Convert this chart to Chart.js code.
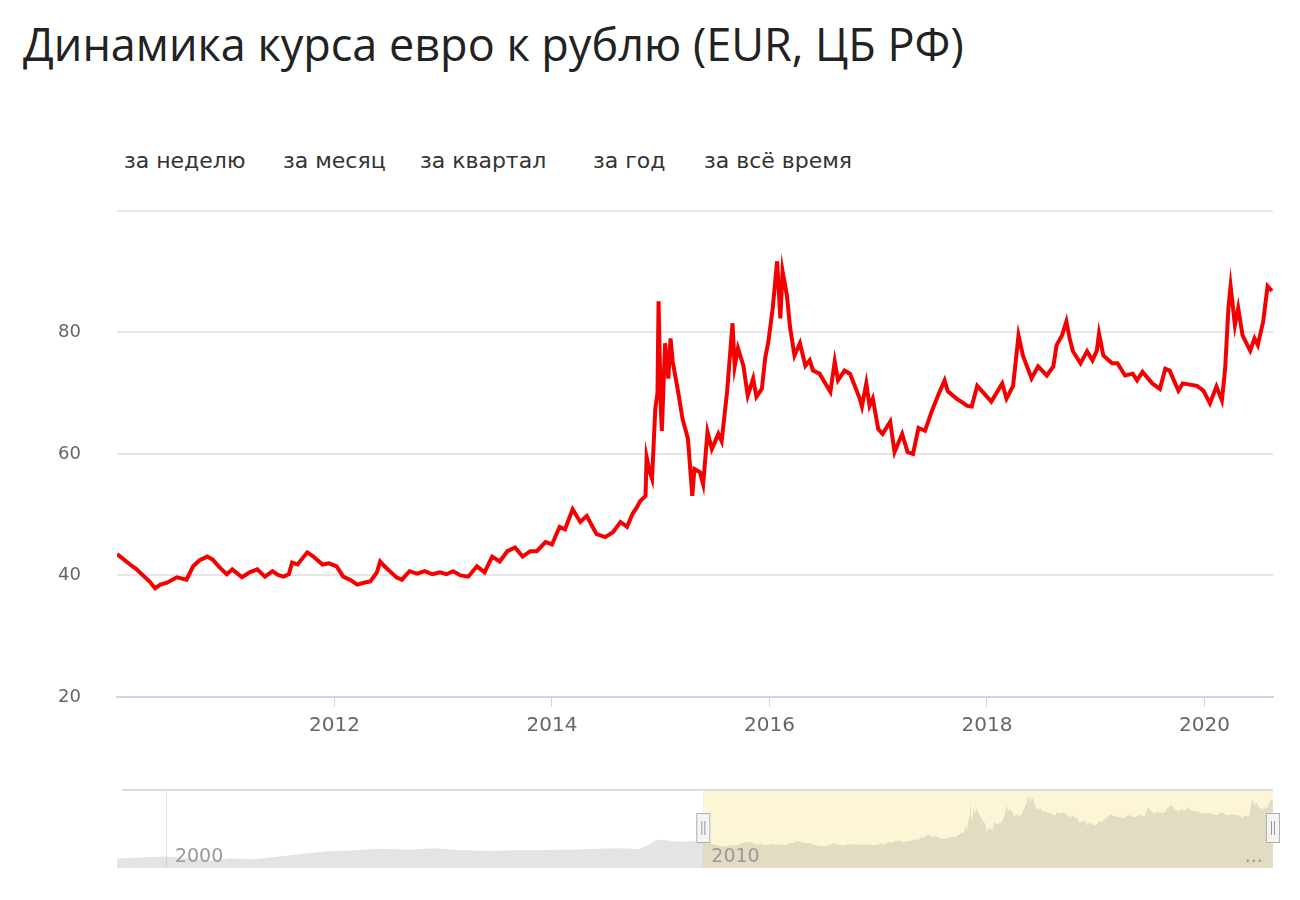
<!DOCTYPE html>
<html lang="ru">
<head>
<meta charset="utf-8">
<title>Динамика курса евро к рублю</title>
<script src="https://cdn.jsdelivr.net/npm/chart.js@4.4.1/dist/chart.umd.min.js"></script>
<style>
  html, body { margin: 0; padding: 0; background: #fff; }
  body { width: 1300px; height: 900px; position: relative; overflow: hidden; font-family: "DejaVu Sans", sans-serif; }
  #title { position: absolute; left: 23px; top: 15px; font-family: "Open Sans", sans-serif; font-size: 45px; color: #222; white-space: nowrap; line-height: 58px; }
  .range { position: absolute; top: 147px; font-size: 22px; color: #333; line-height: 28px; white-space: nowrap; }
  #main-wrap { position: absolute; left: 0; top: 164px; width: 1300px; height: 586px; }
  #nav-wrap { position: absolute; left: 0; top: 780px; width: 1300px; height: 90px; }
</style>
</head>
<body>
<div id="title">Динамика курса евро к рублю (EUR, ЦБ РФ)</div>
<div class="range" style="left:124px">за неделю</div>
<div class="range" style="left:283px">за месяц</div>
<div class="range" style="left:420px">за квартал</div>
<div class="range" style="left:593px">за год</div>
<div class="range" style="left:704px">за всё время</div>
<div id="main-wrap"><canvas id="mainChart" width="1300" height="586"></canvas></div>
<div id="nav-wrap"><canvas id="navChart" width="1300" height="90"></canvas></div>
<script>
// EUR/RUB (CBR), time as decimal years
const years = [
  2010.00, 2010.05, 2010.12, 2010.18, 2010.24, 2010.30, 2010.35, 2010.40, 2010.46, 2010.55,
  2010.64, 2010.70, 2010.76, 2010.83, 2010.88, 2010.95, 2011.01, 2011.06, 2011.15, 2011.22,
  2011.29, 2011.36, 2011.43, 2011.48, 2011.53, 2011.58, 2011.61, 2011.66, 2011.75, 2011.80,
  2011.89, 2011.95, 2012.02, 2012.08, 2012.15, 2012.21, 2012.27, 2012.33, 2012.39, 2012.42,
  2012.46, 2012.52, 2012.57, 2012.62, 2012.69, 2012.76, 2012.83, 2012.90, 2012.97, 2013.03,
  2013.09, 2013.16, 2013.23, 2013.31, 2013.38, 2013.45, 2013.52, 2013.59, 2013.66, 2013.73,
  2013.80, 2013.86, 2013.94, 2014.00, 2014.07, 2014.12, 2014.19, 2014.26, 2014.32, 2014.37,
  2014.41, 2014.49, 2014.56, 2014.63, 2014.69, 2014.74, 2014.78, 2014.81, 2014.86, 2014.87,
  2014.90, 2014.92, 2014.95, 2014.97, 2014.98, 2015.00, 2015.01, 2015.04, 2015.07, 2015.09,
  2015.11, 2015.16, 2015.20, 2015.25, 2015.29, 2015.31, 2015.36, 2015.39, 2015.43, 2015.47,
  2015.53, 2015.56, 2015.61, 2015.66, 2015.68, 2015.71, 2015.76, 2015.80, 2015.85, 2015.88,
  2015.93, 2015.96, 2015.99, 2016.03, 2016.07, 2016.10, 2016.12, 2016.16, 2016.19, 2016.23,
  2016.28, 2016.33, 2016.37, 2016.40, 2016.46, 2016.56, 2016.60, 2016.63, 2016.69, 2016.74,
  2016.83, 2016.85, 2016.89, 2016.92, 2016.95, 2017.00, 2017.04, 2017.11, 2017.15, 2017.22,
  2017.27, 2017.32, 2017.37, 2017.43, 2017.49, 2017.55, 2017.61, 2017.64, 2017.72, 2017.82,
  2017.86, 2017.91, 2017.96, 2018.04, 2018.14, 2018.18, 2018.24, 2018.29, 2018.33, 2018.41,
  2018.47, 2018.55, 2018.61, 2018.64, 2018.69, 2018.73, 2018.76, 2018.79, 2018.86, 2018.92,
  2018.97, 2019.01, 2019.03, 2019.07, 2019.15, 2019.20, 2019.27, 2019.34, 2019.38, 2019.43,
  2019.52, 2019.59, 2019.64, 2019.68, 2019.76, 2019.80, 2019.93, 2019.99, 2020.05, 2020.11,
  2020.16, 2020.19, 2020.22, 2020.24, 2020.28, 2020.31, 2020.35, 2020.42, 2020.46, 2020.49,
  2020.54, 2020.58, 2020.62
];
const eurRub = [
  43.5, 42.8, 41.8, 41.0, 40.0, 39.0, 37.9, 38.5, 38.8, 39.7,
  39.3, 41.5, 42.5, 43.1, 42.6, 41.2, 40.2, 41.0, 39.7, 40.5,
  41.0, 39.8, 40.7, 40.1, 39.8, 40.2, 42.1, 41.8, 43.8, 43.2,
  41.8, 42.0, 41.5, 39.8, 39.2, 38.5, 38.8, 39.0, 40.5, 42.3,
  41.5, 40.5, 39.7, 39.3, 40.7, 40.3, 40.7, 40.2, 40.5, 40.2,
  40.7, 40.0, 39.8, 41.5, 40.5, 43.1, 42.3, 44.0, 44.6, 43.1,
  44.0, 44.0, 45.5, 45.1, 48.0, 47.6, 50.9, 48.8, 49.8, 48.1,
  46.8, 46.3, 47.1, 48.8, 48.0, 50.1, 51.2, 52.2, 53.1, 59.5,
  57.0, 55.9, 67.4, 70.0, 85.1, 68.0, 63.8, 78.2, 72.4, 79.0,
  75.2, 70.2, 65.8, 62.5, 53.1, 57.5, 57.0, 55.0, 63.6, 60.8,
  63.3, 62.1, 70.2, 81.5, 74.4, 77.4, 74.5, 69.6, 72.4, 69.4,
  70.7, 75.7, 78.5, 84.0, 91.7, 82.3, 90.1, 86.1, 80.7, 76.2,
  78.2, 74.5, 75.4, 73.7, 73.2, 70.2, 75.2, 72.1, 73.7, 73.2,
  69.1, 67.8, 71.6, 67.9, 69.1, 64.1, 63.3, 65.3, 60.3, 63.3,
  60.3, 60.0, 64.3, 63.8, 66.9, 69.6, 72.1, 70.3, 69.1, 67.9,
  67.8, 71.2, 70.2, 68.6, 71.6, 69.1, 71.2, 79.5, 76.2, 72.4,
  74.4, 72.9, 74.4, 77.9, 79.5, 81.8, 79.0, 76.9, 74.9, 76.9,
  75.4, 77.0, 79.8, 76.2, 74.9, 74.9, 72.9, 73.2, 72.1, 73.5,
  71.6, 70.7, 74.0, 73.7, 70.4, 71.6, 71.2, 70.4, 68.3, 71.1,
  68.8, 74.0, 84.0, 87.6, 81.2, 84.0, 79.5, 77.0, 79.0, 77.9,
  81.8, 87.6, 86.8
];

// earlier history shown only in the navigator strip
const navYears = [1999.07, 1999.5, 2000.0, 2000.4, 2000.8, 2001.2, 2001.6, 2002.0, 2002.5, 2003.0,
  2003.5, 2004.0, 2004.5, 2005.0, 2005.5, 2006.0, 2006.5, 2007.0, 2007.5, 2008.0,
  2008.5, 2008.8, 2009.0, 2009.15, 2009.5, 2009.8];
const navValues = [25.5, 27.0, 28.0, 26.0, 23.8, 26.0, 25.0, 27.5, 30.5, 33.5,
  34.5, 36.0, 35.0, 36.5, 34.5, 34.0, 34.5, 34.8, 35.0, 36.0,
  36.5, 35.5, 41.0, 45.5, 43.5, 43.8];

const yTicks = [20, 40, 60, 80, 100];
const xTicks = [2012, 2014, 2016, 2018, 2020];
const navTicks = [2000, 2010, 2020];
const navTickLabels = ['2000', '2010', '...'];
const selectedFrom = 2010;

const mainPoints = years.map((x, i) => ({ x, y: eurRub[i] }));
const navPoints = navYears.map((x, i) => ({ x, y: navValues[i] })).concat(mainPoints);

new Chart(document.getElementById('mainChart'), {
  type: 'line',
  data: {
    datasets: [{
      data: mainPoints,
      borderColor: '#f50000',
      borderWidth: 4,
      pointRadius: 0,
      tension: 0,
      fill: false
    }]
  },
  options: {
    responsive: false,
    animation: false,
    // y tick padding also pads the top of the chart area (~46px)
    layout: { padding: { top: 0, right: 27, left: 0, bottom: 0 } },
    plugins: { legend: { display: false }, tooltip: { enabled: false } },
    scales: {
      x: {
        type: 'linear',
        min: 2010,
        max: 2020.63,
        afterBuildTicks: s => { s.ticks = xTicks.map(v => ({ value: v })); },
        afterFit: s => { s.height = 53; },
        grid: { drawOnChartArea: false, drawTicks: true, tickLength: 10, color: '#ccd6eb' },
        border: { color: '#ccd6eb', width: 2 },
        ticks: {
          padding: 7,
          color: '#666',
          font: { family: 'DejaVu Sans', size: 20 },
          callback: v => String(v),
          maxRotation: 0
        }
      },
      y: {
        min: 20,
        max: 100,
        afterBuildTicks: s => { s.ticks = yTicks.map(v => ({ value: v })); },
        afterFit: s => { s.width = 117; },
        grid: { color: '#e6e6e6', lineWidth: 2, drawTicks: false },
        border: { display: false },
        ticks: {
          padding: 36,
          color: '#666',
          font: { family: 'DejaVu Sans', size: 18 },
          callback: v => (v === 100 ? '' : String(v))
        }
      }
    }
  }
});

const navigatorDecor = {
  id: 'navigatorDecor',
  beforeDatasetsDraw(chart) {
    const { ctx, chartArea: a, scales } = chart;
    const x0 = scales.x.getPixelForValue(selectedFrom);
    ctx.save();
    ctx.fillStyle = '#fdf6d6';
    ctx.fillRect(x0, a.top, a.right - x0, a.bottom - a.top);
    ctx.restore();
  },
  afterDraw(chart) {
    const { ctx, chartArea: a, scales } = chart;
    ctx.save();
    // top outline
    ctx.strokeStyle = '#dcdcdc';
    ctx.lineWidth = 2;
    ctx.beginPath();
    ctx.moveTo(a.left + 5, a.top);
    ctx.lineTo(a.right, a.top);
    ctx.stroke();
    // tick labels inside the strip
    ctx.fillStyle = '#999';
    ctx.font = '19px "DejaVu Sans"';
    ctx.textBaseline = 'alphabetic';
    navTicks.forEach((v, i) => {
      const x = scales.x.getPixelForValue(v);
      const tx = i === 2 ? x + 5 : x + 8;
      ctx.fillText(navTickLabels[i], tx, a.bottom - 6);
    });
    // handles
    [scales.x.getPixelForValue(selectedFrom), a.right].forEach(x => {
      const w = 14, h = 30, y = a.top + 23;
      ctx.fillStyle = '#f4f4f4';
      ctx.strokeStyle = '#b0b0b0';
      ctx.lineWidth = 1;
      ctx.fillRect(x - w / 2, y, w, h);
      ctx.strokeRect(x - w / 2 + 0.5, y + 0.5, w - 1, h - 1);
      ctx.strokeStyle = '#999';
      ctx.beginPath();
      ctx.moveTo(x - 1.5, y + 8); ctx.lineTo(x - 1.5, y + h - 8);
      ctx.moveTo(x + 1.5, y + 8); ctx.lineTo(x + 1.5, y + h - 8);
      ctx.stroke();
    });
    ctx.restore();
  }
};

new Chart(document.getElementById('navChart'), {
  type: 'line',
  data: {
    datasets: [{
      data: navPoints,
      borderColor: 'rgba(0,0,0,0)',
      borderWidth: 0,
      backgroundColor: 'rgba(120,120,120,0.2)',
      fill: 'origin',
      pointRadius: 0,
      tension: 0
    }]
  },
  options: {
    responsive: false,
    animation: false,
    layout: { padding: { top: 10, right: 27, left: 117, bottom: 2 } },
    plugins: { legend: { display: false }, tooltip: { enabled: false } },
    scales: {
      x: {
        type: 'linear',
        min: 1999.07,
        max: 2020.62,
        afterBuildTicks: s => { s.ticks = navTicks.map(v => ({ value: v })); },
        afterFit: s => { s.height = 0; },
        grid: { color: '#e6e6e6', lineWidth: 1, drawTicks: false },
        border: { display: false },
        ticks: { display: false }
      },
      y: {
        display: false,
        min: 16,
        max: 97
      }
    }
  },
  plugins: [navigatorDecor]
});
</script>
</body>
</html>
